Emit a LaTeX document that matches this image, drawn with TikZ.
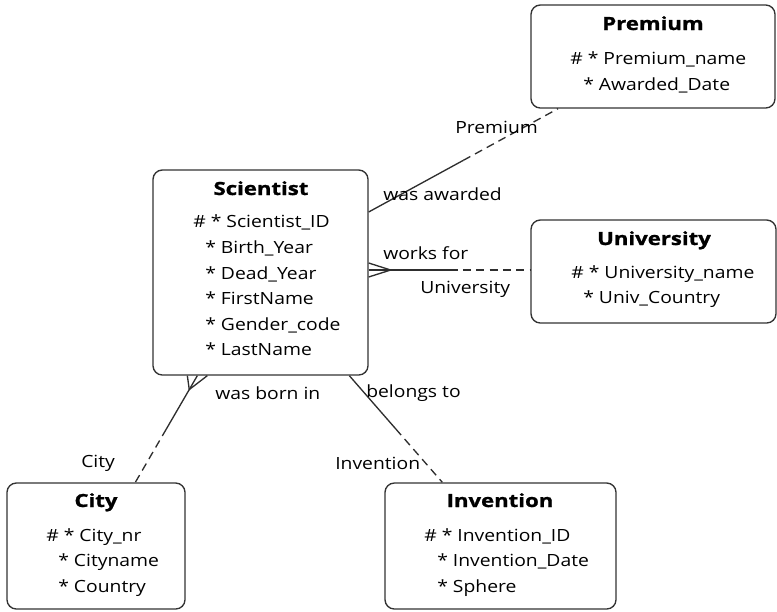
\documentclass[tikz,border=0pt]{standalone}
\usepackage{fontspec}
\setmainfont{Open Sans}[FakeStretch=1.15]
\newfontfamily\ttlfont{Open Sans}[FakeStretch=1.22,FakeBold=1.2]
\usetikzlibrary{fit,calc}
\tikzset{
  ent/.style={draw=black!80, line width=1pt, rounded corners=7pt, fill=white, inner sep=0pt},
  ttl/.style={font=\fontsize{13.6}{15}\ttlfont\bfseries, inner sep=0pt, anchor=base},
  att/.style={font=\fontsize{12.6}{14}\selectfont, inner sep=0pt, anchor=base west},
  lbl/.style={font=\fontsize{12.6}{14}\selectfont, inner sep=0pt, anchor=west},
  rel/.style={draw=black!82, line width=1pt},
  reld/.style={rel, dash pattern=on 6pt off 4pt},
}
\begin{document}
\begin{tikzpicture}[x=0.75pt,y=-0.75pt]
\useasboundingbox (0,0) rectangle (777,611);
% entities
\node[ent, fit={(531,5)(775,108)}] (prem) {};
\node[ent, fit={(153,170)(368,375)}] (sci) {};
\node[ent, fit={(531,220)(776,323)}] (univ) {};
\node[ent, fit={(7,483)(185,609)}] (city) {};
\node[ent, fit={(385,483)(616,609)}] (inv) {};
% Premium
\node[ttl] (premT) at (653,30) {Premium};
\node[att] (premA) at (570,64) {\# * Premium\_name};
\node[att] (premB) at (583,90) {* Awarded\_Date};
% Scientist
\node[ttl] (sciT) at (261,195) {Scientist};
\node[att] (sciA) at (193,227) {\# * Scientist\_ID};
\node[att] (sciB) at (205,253) {* Birth\_Year};
\node[att] (sciC) at (205,279) {* Dead\_Year};
\node[att] (sciD) at (205,304) {* FirstName};
\node[att] (sciE) at (205,330) {* Gender\_code};
\node[att] (sciF) at (205,355) {* LastName};
% University
\node[ttl] (univT) at (654,245) {University};
\node[att] (univA) at (571,278) {\# * University\_name};
\node[att] (univB) at (583,303) {* Univ\_Country};
% City
\node[ttl] (cityT) at (96,507) {City};
\node[att] (cityA) at (46,541) {\# * City\_nr};
\node[att] (cityB) at (58,566) {* Cityname};
\node[att] (cityC) at (58,592) {* Country};
% Invention
\node[ttl] (invT) at (500,507) {Invention};
\node[att] (invA) at (424,541) {\# * Invention\_ID};
\node[att] (invB) at (437,566) {* Invention\_Date};
\node[att] (invC) at (437,592) {* Sphere};
% connector end points
\coordinate (p1) at ($(sci.east)+(0,-60.5)$);
\coordinate (p2) at ($(prem.south)+(-95,0)$);
\coordinate (u1) at ($(sci.east)+(0,-2.5)$);
\coordinate (u1t) at ($(u1)+(22,0)$);
\coordinate (u2) at (univ.west |- u1);
\coordinate (c1) at ($(sci.south west)+(45,0)$);
\coordinate (c2) at ($(city.north west)+(129,0)$);
\coordinate (i1) at ($(sci.south west)+(197,0)$);
\coordinate (i2) at ($(inv.north west)+(58,0)$);
% Scientist - Premium
\draw[rel] (p1) -- ($(p1)!0.5!(p2)$);
\draw[reld] ($(p1)!0.5!(p2)$) -- (p2);
% Scientist - University (crow's foot)
\draw[rel] (u1) -- ($(u1)!0.5!(u2)$);
\draw[reld] ($(u1)!0.5!(u2)$) -- (u2);
\draw[rel] ($(u1)+(0,-7)$) -- (u1t) -- ($(u1)+(0,7)$);
% Scientist - City (crow's foot)
\coordinate (ct) at ($(c1)!0.13!(c2)$);
\draw[rel] (ct) -- ($(c1)!0.5!(c2)$);
\draw[reld] ($(c1)!0.5!(c2)$) -- (c2);
\draw[rel] ($(c1)+(-10,0)$) -- (ct) -- ($(c1)+(10,0)$);
\draw[rel] (c1) -- (ct);
% Scientist - Invention
\draw[rel] (i1) -- ($(i1)!0.5!(i2)$);
\draw[reld] ($(i1)!0.5!(i2)$) -- (i2);
% labels
\node[lbl] (l1) at (383,194) {was awarded};
\node[lbl] (l2) at (455,127) {Premium};
\node[lbl] (l3) at (383,253) {works for};
\node[lbl] (l4) at (420,289) {University};
\node[lbl] (l5) at (215,393) {was born in};
\node[lbl] (l6) at (81,463) {City};
\node[lbl] (l7) at (366,393) {belongs to};
\node[lbl] (l8) at (335,463) {Invention};
\end{tikzpicture}
\end{document}
